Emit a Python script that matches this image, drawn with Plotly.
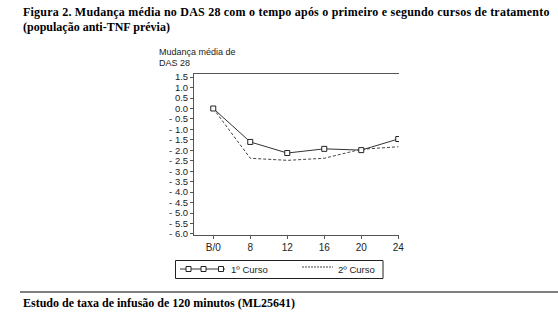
import plotly.graph_objects as go

# ---- data ----
categories = ["B/0", "8", "12", "16", "20", "24"]
curso1 = [0.0, -1.6, -2.13, -1.93, -1.99, -1.46]
curso2 = [0.0, -2.38, -2.48, -2.38, -1.95, -1.83]
ytick_vals = [1.5, 1.0, 0.5, 0.0, -0.5, -1.0, -1.5, -2.0, -2.5, -3.0, -3.5,
              -4.0, -4.5, -5.0, -5.5, -6.0]
ytick_text = ["1.5", "1.0", "0.5", "0.0", "- 0.5", "- 1.0", "- 1.5", "- 2.0",
              "- 2.5", "- 3.0", "- 3.5", "- 4.0", "- 4.5", "- 5.0", "- 5.5", "- 6.0"]
series_names = ["1º Curso", "2º Curso"]
title_line1 = "Figura 2. Mudança média no DAS 28 com o tempo após o primeiro e segundo cursos de tratamento"
title_line2 = "(população anti-TNF prévia)"
ytitle1 = "Mudança média de"
ytitle2 = "DAS 28"
footer = "Estudo de taxa de infusão de 120 minutos (ML25641)"

W, H = 558, 318
L, R, T, B = 194, 399, 74, 235

def px(x):
    return (x - L) / (R - L)

def py(y):
    return (B - y) / (B - T)

xpos = list(range(len(categories)))

fig = go.Figure()
fig.add_trace(go.Scatter(
    x=xpos, y=curso2, mode="lines", name=series_names[1],
    line=dict(color="#444444", width=1, dash="3px,2px"), showlegend=False))
fig.add_trace(go.Scatter(
    x=xpos, y=curso1, mode="lines+markers", name=series_names[0],
    line=dict(color="#333333", width=1),
    marker=dict(symbol="square", size=5, color="white",
                line=dict(color="#222222", width=1)), showlegend=False))

SANS = "Liberation Sans, Arial, sans-serif"
SERIF = "Liberation Serif, Times New Roman, serif"

fig.update_layout(
    width=W, height=H,
    margin=dict(l=L, r=W - R, t=T, b=H - B, pad=0),
    paper_bgcolor="white", plot_bgcolor="white",
    font=dict(family=SANS, size=9.5, color="#222222"),
    xaxis=dict(
        range=[-0.52, 5.02], tickvals=xpos, ticktext=categories,
        showgrid=False, zeroline=False, showline=True, mirror=True,
        linecolor="#555555", linewidth=1, ticks="outside", ticklen=3,
        tickcolor="#555555", tickfont=dict(family=SANS, size=10, color="#222222"),
        fixedrange=True),
    yaxis=dict(
        range=[-6.05, 1.65], tickvals=ytick_vals, ticktext=ytick_text,
        showgrid=False, zeroline=False, showline=True, mirror=False,
        linecolor="#555555", linewidth=1, ticks="outside", ticklen=3,
        tickcolor="#555555", tickfont=dict(family=SANS, size=9.5, color="#222222"),
        fixedrange=True),
    showlegend=False,
)

ann = []
ann.append(dict(text='<b><span style="letter-spacing:0.22px">' + title_line1 + "</span></b>",
                x=px(21), y=py(11.5),
                xref="paper", yref="paper", xanchor="left", yanchor="middle",
                showarrow=False, font=dict(family=SERIF, size=12, color="black")))
ann.append(dict(text="<b>" + title_line2 + "</b>", x=px(21), y=py(27),
                xref="paper", yref="paper", xanchor="left", yanchor="middle",
                showarrow=False, font=dict(family=SERIF, size=12, color="black")))
ann.append(dict(text=ytitle1, x=px(157), y=py(51.5), xref="paper", yref="paper",
                xanchor="left", yanchor="middle", showarrow=False,
                font=dict(family=SANS, size=9, color="#222222")))
ann.append(dict(text=ytitle2, x=px(157), y=py(62.5), xref="paper", yref="paper",
                xanchor="left", yanchor="middle", showarrow=False,
                font=dict(family=SANS, size=9, color="#222222")))
ann.append(dict(text="<b>" + footer + "</b>", x=px(21), y=py(303),
                xref="paper", yref="paper", xanchor="left", yanchor="middle",
                showarrow=False, font=dict(family=SERIF, size=12, color="black")))
# legend texts
ann.append(dict(text=series_names[0], x=px(229), y=py(269.5), xref="paper", yref="paper",
                xanchor="left", yanchor="middle", showarrow=False,
                font=dict(family=SANS, size=9.5, color="#222222")))
ann.append(dict(text=series_names[1], x=px(336), y=py(269.5), xref="paper", yref="paper",
                xanchor="left", yanchor="middle", showarrow=False,
                font=dict(family=SANS, size=9.5, color="#222222")))
fig.update_layout(annotations=ann)

shapes = []
# footer rule
shapes.append(dict(type="line", xref="paper", yref="paper",
                   x0=px(20), x1=px(558), y0=py(292), y1=py(292),
                   line=dict(color="black", width=1)))
# legend box
shapes.append(dict(type="rect", xref="paper", yref="paper",
                   x0=px(175.5), x1=px(383), y0=py(260.5), y1=py(278.5),
                   line=dict(color="#222222", width=1), fillcolor="rgba(0,0,0,0)"))
# legend line 1 with squares
shapes.append(dict(type="line", xref="paper", yref="paper",
                   x0=px(180), x1=px(225), y0=py(269), y1=py(269),
                   line=dict(color="#333333", width=1)))
for cx in (188.5, 203.5, 221):
    shapes.append(dict(type="rect", xref="paper", yref="paper",
                       x0=px(cx - 2.5), x1=px(cx + 2.5), y0=py(266.5), y1=py(271.5),
                       line=dict(color="#222222", width=1), fillcolor="white"))
# legend line 2 (dotted)
shapes.append(dict(type="line", xref="paper", yref="paper",
                   x0=px(302), x1=px(333), y0=py(267), y1=py(267),
                   line=dict(color="#444444", width=1, dash="2px,1px")))
fig.update_layout(shapes=shapes)

fig.write_html("out.html")
